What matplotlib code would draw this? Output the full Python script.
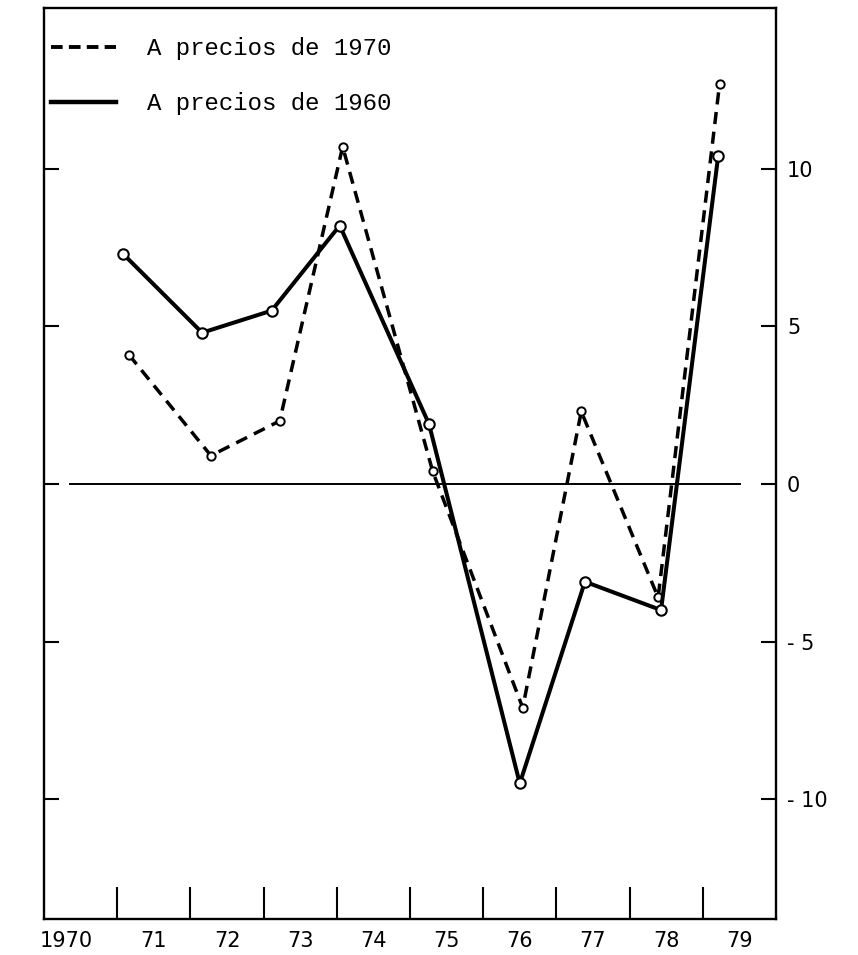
import numpy as np
from matplotlib import pyplot as plt
from matplotlib.lines import Line2D

# tasa de variacion anual, dos bases de precios
pos_1960 = [1971.08, 1972.16, 1973.11, 1974.04, 1975.26, 1976.50, 1977.39, 1978.43, 1979.21]
val_1960 = [7.3, 4.8, 5.5, 8.2, 1.9, -9.5, -3.1, -4.0, 10.4]

pos_1970 = [1971.16, 1972.28, 1973.22, 1974.08, 1975.31, 1976.54, 1977.34, 1978.39, 1979.23]
val_1970 = [4.1, 0.9, 2.0, 10.7, 0.4, -7.1, 2.3, -3.6, 12.7]

year_ticks = list(range(1971, 1980))
year_label_pos = [1970.3] + [y + 0.5 for y in range(1971, 1980)]
year_labels = ['1970', '71', '72', '73', '74', '75', '76', '77', '78', '79']

y_ticks = [-10, -5, 0, 5, 10]
y_labels = ['- 10', '- 5', '0', '5', '10']

mono = 'Liberation Mono'
sans = 'DejaVu Sans'

fig = plt.figure(figsize=(8.58, 9.55), dpi=100)
ax = fig.add_axes([0.0513, 0.0377, 0.8531, 0.9539])

ax.set_xlim(1970, 1980)
ax.set_ylim(-13.8, 15.1)

for s in ax.spines.values():
    s.set_linewidth(1.7)
    s.set_color('black')

# linea de cero
ax.axhline(0, xmin=0.036, xmax=0.951, color='black', lw=1.4)

ax.plot(pos_1970, val_1970, color='black', lw=2.5, ls=(0, (3.5, 2.2)),
        marker='o', ms=6, mfc='white', mec='black', mew=1.4, zorder=3)
ax.plot(pos_1960, val_1960, color='black', lw=2.9, ls='-',
        marker='o', ms=7.5, mfc='white', mec='black', mew=1.5, zorder=4)

# eje x: marcas en los limites de cada ano, etiquetas al centro
ax.set_xticks(year_ticks)
ax.set_xticks(year_label_pos, year_labels, minor=True)
ax.tick_params(axis='x', which='major', direction='in', length=23, width=1.5,
               labelbottom=False)
ax.tick_params(axis='x', which='minor', length=0, pad=9, labelsize=15)
for t in ax.get_xticklabels(minor=True):
    t.set_family(sans)

ax.set_yticks(y_ticks, y_labels)
ax.tick_params(axis='y', direction='in', left=True, right=True, length=11,
               width=1.5, labelleft=False, labelright=True, pad=8, labelsize=15)
for t in ax.get_yticklabels():
    t.set_family(sans)

handles = [Line2D([], [], color='black', lw=2.8, ls=(0, (3, 1.6))),
           Line2D([], [], color='black', lw=3.2, ls='-')]
ax.legend(handles, ['A precios de 1970', 'A precios de 1960'],
          loc='upper left', bbox_to_anchor=(0.01, 0.968), frameon=False,
          borderpad=0, borderaxespad=0, handlelength=2.7, handletextpad=1.3,
          labelspacing=1.33, prop={'family': mono, 'size': 17.3})

plt.savefig('out.png', dpi=100)
